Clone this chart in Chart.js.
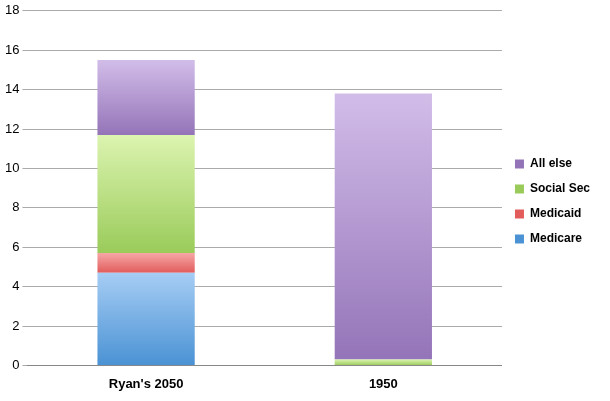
<!DOCTYPE html>
<html><head><script src="https://cdn.jsdelivr.net/npm/chart.js@4"></script>
<style>body{margin:0;background:#fff}#w{width:610px;height:401px}</style></head>
<body><div id="w"><canvas id="c"></canvas></div>
<script>
const categories = ["Ryan's 2050", "1950"];
const medicare = [4.7, 0];
const medicaid = [1.0, 0];
const socialSec = [6.0, 0.3];
const allElse = [3.8, 13.5];
const yTicks = [0,2,4,6,8,10,12,14,16,18];
const series = [medicare, medicaid, socialSec, allElse];
const names = ['Medicare','Medicaid','Social Sec','All else'];
const cols = [['#a6cdf4','#4a92d4'],['#f6a6a6','#e25c5c'],['#dcf4b0','#9acb5a'],['#d2bde9','#9474b8']];
function bg(di){return function(ctx){
  const ch=ctx.chart, y=ch.scales&&ch.scales.y; const i=ctx.dataIndex;
  if(!y||i===undefined) return cols[di][1];
  let base=0; for(let k=0;k<di;k++) base+=series[k][i];
  const top=base+series[di][i];
  const g=ch.ctx.createLinearGradient(0,y.getPixelForValue(top),0,y.getPixelForValue(base)+0.01);
  g.addColorStop(0,cols[di][0]); g.addColorStop(1,cols[di][1]); return g;};}
new Chart(document.getElementById('c'),{type:'bar',
 data:{labels:categories,datasets:series.map((s,di)=>({label:names[di],data:s,backgroundColor:bg(di),borderWidth:0,barPercentage:0.41,categoryPercentage:1}))},
 options:{responsive:true,maintainAspectRatio:false,animation:false,
  layout:{padding:{top:8,right:10,left:2,bottom:6}},
  scales:{x:{stacked:true,grid:{display:false},border:{color:'#888'},ticks:{color:'#000',font:{family:'Liberation Sans',size:13,weight:'bold'}}},
   y:{stacked:true,min:0,max:18,afterBuildTicks:a=>{a.ticks=yTicks.map(v=>({value:v}));},grid:{color:'#aaa',drawTicks:true,tickLength:5},border:{display:false},ticks:{color:'#000',font:{family:'Liberation Sans',size:13}}}},
  plugins:{tooltip:{enabled:false},legend:{position:'right',reverse:true,
   labels:{boxWidth:9,boxHeight:9,padding:13,color:'#000',font:{family:'Liberation Sans',size:12,style:'small-caps',weight:'bold'},
    generateLabels:ch=>names.map((n,i)=>({text:n,fillStyle:cols[i][1],strokeStyle:cols[i][1],lineWidth:0,datasetIndex:i}))}}}}});
</script></body></html>
